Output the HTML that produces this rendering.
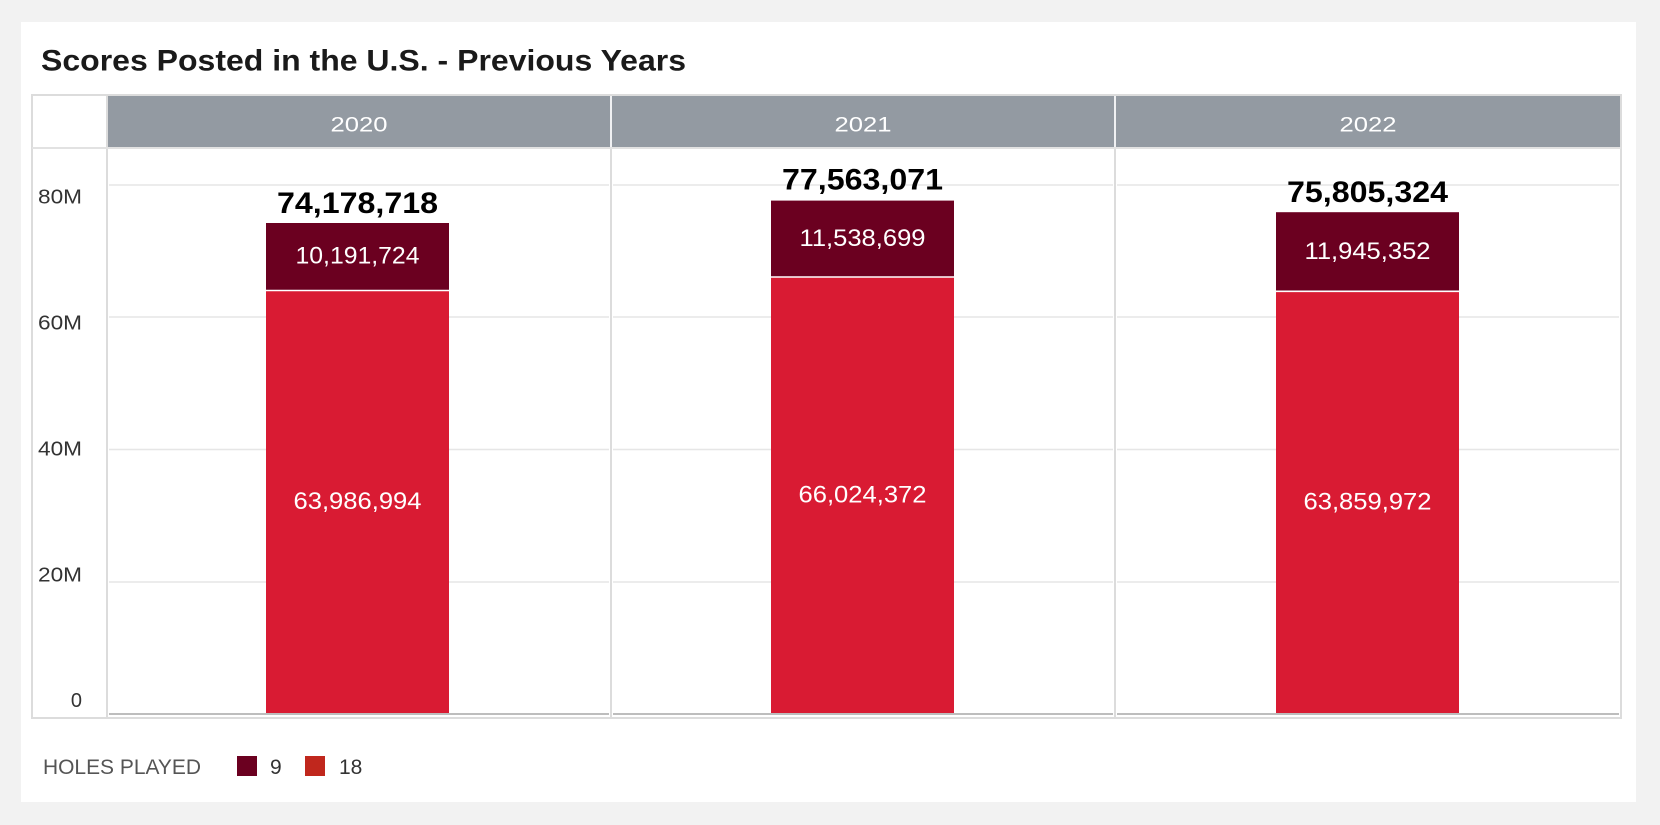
<!DOCTYPE html>
<html>
<head>
<meta charset="utf-8">
<style>
  html,body{margin:0;padding:0;background:#f2f2f2;}
  svg{display:block;}
  text{font-family:"Liberation Sans", sans-serif;}
</style>
</head>
<body>
<svg width="1660" height="825" viewBox="0 0 1660 825" xmlns="http://www.w3.org/2000/svg">
  <rect x="0" y="0" width="1660" height="825" fill="#f2f2f2"/>
  <rect x="21" y="22" width="1615" height="780" fill="#ffffff"/>

  <!-- Title -->
  <text x="41" y="70.5" font-size="30" font-weight="bold" fill="#1a1a1a" textLength="645" lengthAdjust="spacingAndGlyphs">Scores Posted in the U.S. - Previous Years</text>

  <!-- Header -->
  <rect x="107" y="95" width="1514" height="53" fill="#939aa2"/>
  <text x="359" y="131.5" font-size="21" fill="#ffffff" text-anchor="middle" textLength="57" lengthAdjust="spacingAndGlyphs">2020</text>
  <text x="863" y="131.5" font-size="21" fill="#ffffff" text-anchor="middle" textLength="57" lengthAdjust="spacingAndGlyphs">2021</text>
  <text x="1368" y="131.5" font-size="21" fill="#ffffff" text-anchor="middle" textLength="57" lengthAdjust="spacingAndGlyphs">2022</text>

  <!-- Gridlines -->
  <g stroke="#e6e6e6" stroke-width="1.6">
    <line x1="109" y1="185" x2="609" y2="185"/>
    <line x1="613" y1="185" x2="1113" y2="185"/>
    <line x1="1117" y1="185" x2="1619" y2="185"/>
    <line x1="109" y1="317" x2="609" y2="317"/>
    <line x1="613" y1="317" x2="1113" y2="317"/>
    <line x1="1117" y1="317" x2="1619" y2="317"/>
    <line x1="109" y1="449.5" x2="609" y2="449.5"/>
    <line x1="613" y1="449.5" x2="1113" y2="449.5"/>
    <line x1="1117" y1="449.5" x2="1619" y2="449.5"/>
    <line x1="109" y1="582" x2="609" y2="582"/>
    <line x1="613" y1="582" x2="1113" y2="582"/>
    <line x1="1117" y1="582" x2="1619" y2="582"/>
  </g>

  <!-- Table borders -->
  <g stroke="#dcdcdc" stroke-width="2" fill="none">
    <rect x="32" y="95" width="1589" height="623"/>
    <line x1="107" y1="95" x2="107" y2="718"/>
    <line x1="611" y1="148" x2="611" y2="718"/>
    <line x1="1115" y1="148" x2="1115" y2="718"/>
    <line x1="32" y1="148" x2="1621" y2="148" stroke="#e2e2e2"/>
  </g>
  <g stroke="#f0f1f3" stroke-width="2">
    <line x1="611" y1="96" x2="611" y2="147"/>
    <line x1="1115" y1="96" x2="1115" y2="147"/>
  </g>

  <!-- Y axis labels -->
  <g font-size="20" fill="#333333" text-anchor="end">
    <text x="82" y="203.5" textLength="44" lengthAdjust="spacingAndGlyphs">80M</text>
    <text x="82" y="329.5" textLength="44" lengthAdjust="spacingAndGlyphs">60M</text>
    <text x="82" y="455.5" textLength="44" lengthAdjust="spacingAndGlyphs">40M</text>
    <text x="82" y="581.5" textLength="44" lengthAdjust="spacingAndGlyphs">20M</text>
    <text x="82" y="707">0</text>
  </g>

  <!-- Bars 2020 -->
  <rect x="266" y="290.5" width="183" height="423.5" fill="#d91b33"/>
  <rect x="266" y="223" width="183" height="67.5" fill="#6b0020"/>
  <line x1="266" y1="290.5" x2="449" y2="290.5" stroke="#ffffff" stroke-width="1.6"/>
  <!-- Bars 2021 -->
  <rect x="771" y="277" width="183" height="437" fill="#d91b33"/>
  <rect x="771" y="200.6" width="183" height="76.4" fill="#6b0020"/>
  <line x1="771" y1="277" x2="954" y2="277" stroke="#ffffff" stroke-width="1.6"/>
  <!-- Bars 2022 -->
  <rect x="1276" y="291.3" width="183" height="422.7" fill="#d91b33"/>
  <rect x="1276" y="212.2" width="183" height="79.1" fill="#6b0020"/>
  <line x1="1276" y1="291.3" x2="1459" y2="291.3" stroke="#ffffff" stroke-width="1.6"/>

  <!-- Baseline -->
  <g stroke="#bdbdbd" stroke-width="2">
    <line x1="109" y1="714" x2="609" y2="714"/>
    <line x1="613" y1="714" x2="1113" y2="714"/>
    <line x1="1117" y1="714" x2="1619" y2="714"/>
  </g>

  <!-- Totals -->
  <g font-size="30" font-weight="bold" fill="#000000" text-anchor="middle">
    <text x="357.5" y="213" textLength="161" lengthAdjust="spacingAndGlyphs">74,178,718</text>
    <text x="862.5" y="189.5" textLength="161" lengthAdjust="spacingAndGlyphs">77,563,071</text>
    <text x="1367.5" y="202" textLength="161" lengthAdjust="spacingAndGlyphs">75,805,324</text>
  </g>

  <!-- Inner labels -->
  <g font-size="24" fill="#ffffff" text-anchor="middle">
    <text x="357.5" y="263.7" textLength="124" lengthAdjust="spacingAndGlyphs">10,191,724</text>
    <text x="357.5" y="509.2" textLength="128" lengthAdjust="spacingAndGlyphs">63,986,994</text>
    <text x="862.5" y="245.8" textLength="126" lengthAdjust="spacingAndGlyphs">11,538,699</text>
    <text x="862.5" y="502.5" textLength="128" lengthAdjust="spacingAndGlyphs">66,024,372</text>
    <text x="1367.5" y="259" textLength="126" lengthAdjust="spacingAndGlyphs">11,945,352</text>
    <text x="1367.5" y="509.6" textLength="128" lengthAdjust="spacingAndGlyphs">63,859,972</text>
  </g>

  <!-- Legend -->
  <text x="43" y="774" font-size="21" fill="#555555" textLength="158" lengthAdjust="spacingAndGlyphs">HOLES PLAYED</text>
  <rect x="237" y="756" width="20" height="20" fill="#6b0020"/>
  <text x="270" y="774" font-size="21" fill="#333333">9</text>
  <rect x="305" y="756" width="20" height="20" fill="#c0271d"/>
  <text x="339" y="774" font-size="21" fill="#333333">18</text>
</svg>
</body>
</html>
